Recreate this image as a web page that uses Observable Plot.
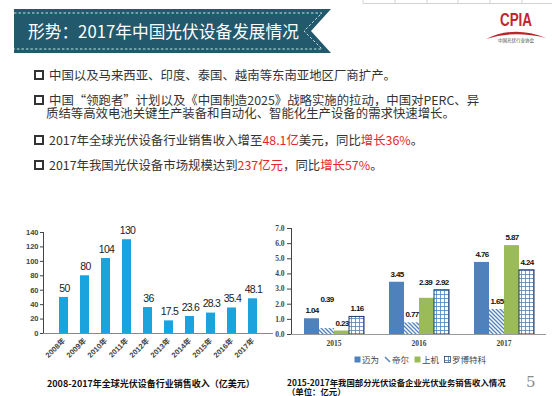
<!DOCTYPE html>
<html><head><meta charset="utf-8">
<script src="https://cdn.jsdelivr.net/npm/d3@7"></script>
<script src="https://cdn.jsdelivr.net/npm/@observablehq/plot@0.6"></script>
<style>
html,body{margin:0;padding:0}
body{width:552px;height:396px;overflow:hidden;background:#fff;position:relative;font-family:"Noto Sans CJK SC","Noto Sans",sans-serif}
.abs{position:absolute}
.bul{position:absolute;left:49px;font-size:12.4px;line-height:13px;height:13px;color:#333;white-space:nowrap}
.sq{position:absolute;left:34px;width:6px;height:6px;border:2px solid #333}
.red{color:#e3262b}
.cap{position:absolute;font-weight:bold;color:#111;white-space:nowrap}
#legend{position:absolute;left:354px;top:353px;font-size:8.5px;color:#444;display:flex;align-items:center;white-space:nowrap}
#legend span.it{display:flex;align-items:center;margin-right:5px}
#legend svg{margin-right:1px}
#left g[aria-label="text"] text{letter-spacing:-0.8px}
#right g[aria-label="text"] text{letter-spacing:-0.6px}
</style></head>
<body>
<svg width="0" height="0" style="position:absolute">
 <defs>
  <pattern id="hatch" patternUnits="userSpaceOnUse" width="4" height="4">
   <rect width="4" height="4" fill="#fff"/>
   <path d="M-1,-1 L5,5 M-1,3 L1,5 M3,-1 L5,1" stroke="#4f81bd" stroke-width="1.3"/>
  </pattern>
  <pattern id="grid" patternUnits="userSpaceOnUse" width="4" height="4">
   <rect width="4" height="4" fill="#fff"/>
   <path d="M0,0.5 H4 M0.5,0 V4" stroke="#4f81bd" stroke-width="0.8"/>
  </pattern>
 </defs>
</svg>

<!-- top-right table fragment -->
<svg class="abs" style="left:0;top:0" width="552" height="6">
 <path d="M363,0 V3.5 H552 M395,0 V3.5 M427,0 V3.5 M458,0 V3.5 M490,0 V3.5 M522,0 V3.5" stroke="#c8c8c8" stroke-width="0.8" fill="none"/>
</svg>

<!-- banner -->
<svg class="abs" style="left:0;top:0" width="345" height="60">
 <polygon points="14,9 331,9 311,31 331,53 14,53" fill="#22596c"/>
 <path d="M14,13 H322 L304,31 L322,49 H14" fill="none" stroke="#fff" stroke-width="0.8" stroke-dasharray="2.5 2"/>
 <text x="28" y="38" fill="#fff" font-size="17" textLength="271" lengthAdjust="spacingAndGlyphs" font-family="Noto Sans CJK SC, sans-serif">形势：2017年中国光伏设备发展情况</text>
</svg>

<!-- CPIA logo -->
<svg class="abs" style="left:480px;top:4px" width="72" height="40">
 <text x="36" y="22" text-anchor="middle" font-size="19" font-weight="bold" fill="#c4262d" font-family="Liberation Sans, sans-serif" textLength="32" lengthAdjust="spacingAndGlyphs">CPIA</text>
 <path d="M6,35 Q34,21 66,34 Q34,26 6,35 Z" fill="#b8262c"/>
 <text x="36" y="38" text-anchor="middle" font-size="4.5" fill="#444">中国光伏行业协会</text>
</svg>

<!-- bullets -->
<div class="sq" style="top:70px"></div>
<div class="bul" style="top:68.5px">中国以及马来西亚、印度、泰国、越南等东南亚地区厂商扩产。</div>
<div class="sq" style="top:95px"></div>
<div class="bul" style="top:93.5px">中国“领跑者”计划以及《中国制造2025》战略实施的拉动，中国对PERC、异</div>
<div class="bul" style="top:106.8px;left:46px">质结等高效电池关键生产装备和自动化、智能化生产设备的需求快速增长。</div>
<div class="sq" style="top:135px"></div>
<div class="bul" style="top:133.5px">2017年全球光伏设备行业销售收入增至<span class="red">48.1亿</span>美元，同比<span class="red">增长36%</span>。</div>
<div class="sq" style="top:160px"></div>
<div class="bul" style="top:158.5px">2017年我国光伏设备市场规模达到<span class="red">237亿元</span>，同比<span class="red">增长57%</span>。</div>

<div id="left" class="abs" style="left:0;top:220px"></div>
<div id="right" class="abs" style="left:270px;top:222px"></div>

<div id="legend"></div>

<div class="cap" style="left:47px;top:377px;font-size:9px">2008-2017年全球光伏设备行业销售收入（亿美元）</div>
<div class="cap" style="left:287px;top:378px;font-size:8.4px;line-height:9px;height:9px">2015-2017年我国部分光伏设备企业光伏业务销售收入情况</div>
<div class="cap" style="left:287px;top:387px;font-size:8.4px;line-height:9px;height:9px">（单位：亿元）</div>
<div class="abs" style="left:526px;top:373px;font-size:15px;color:#8a8a8a;font-family:'DejaVu Serif',serif">5</div>

<script>
// ---- Left chart data ----
const years1 = ["2008年","2009年","2010年","2011年","2012年","2013年","2014年","2015年","2016年","2017年"];
const revenue1 = [50, 80, 104, 130, 36, 17.5, 23.6, 28.3, 35.4, 48.1];
const yTicks1 = [0, 20, 40, 60, 80, 100, 120, 140];

// ---- Right chart data ----
const years2 = ["2015", "2016", "2017"];
const companies = ["迈为", "帝尔", "上机", "罗博特科"];
const maiwei = [1.04, 3.45, 4.76];
const dier = [0.39, 0.77, 1.65];
const shangji = [0.23, 2.39, 5.87];
const robo = [1.16, 2.92, 4.24];
const yTicks2 = [0, 1, 2, 3, 4, 5, 6, 7];

// styles (kept apart from data)
const companyFills = ["#4f81bd", "url(#hatch)", "#9bbb59", "url(#grid)"];
const raisedLabels = {"2015|帝尔": -29, "2016|上机": -16};
const labelFont = "Liberation Sans, Arial, sans-serif";

const data1 = years1.map((y, i) => ({year: y, value: revenue1[i]}));
const seriesVals = [maiwei, dier, shangji, robo];
const data2 = [];
years2.forEach((y, i) => companies.forEach((c, j) => data2.push({year: y, company: c, value: seriesVals[j][i]})));

const left = Plot.plot({
  width: 278, height: 150,
  marginLeft: 43, marginRight: 5, marginTop: 12, marginBottom: 37,
  style: {fontFamily: "Liberation Sans, Noto Sans CJK SC, sans-serif", fontSize: "7.5px", fontWeight: "bold", color: "#444", background: "transparent"},
  x: {domain: years1, padding: 0.56, label: null, tickRotate: -45, tickSize: 0, tickPadding: 6},
  y: {domain: [0, 140], ticks: yTicks1, label: null, tickSize: 3, tickPadding: 2, line: true},
  marks: [
    Plot.barY(data1, {x: "year", y: "value", fill: "#1ba3de"}),
    Plot.ruleY([0], {stroke: "#888"}),
    Plot.text(data1, {x: "year", y: "value", text: d => String(d.value), dy: -9, dx: 0.4, fontSize: 10.5, fontFamily: labelFont, fontWeight: "normal", fill: "#222"})
  ]
});
document.getElementById("left").appendChild(left);

const normal = data2.filter(d => !(d.year + "|" + d.company in raisedLabels));
const raised = data2.filter(d => d.year + "|" + d.company in raisedLabels);

const right = Plot.plot({
  width: 282, height: 130,
  marginLeft: 20, marginRight: 5.5, marginTop: 6, marginBottom: 18,
  style: {fontFamily: "Liberation Serif, Noto Sans CJK SC, serif", fontSize: "7.5px", fontWeight: "bold", color: "#444", background: "transparent"},
  fx: {domain: years2, padding: 0, label: null, axis: "bottom", tickSize: 0, tickPadding: 6},
  x: {domain: companies, axis: null, paddingInner: 0, paddingOuter: 0.72},
  y: {domain: [0, 7], ticks: yTicks2, label: null, tickSize: 4, tickPadding: 3, line: true},
  color: {domain: companies, range: companyFills},
  marks: [
    Plot.barY(data2, {fx: "year", x: "company", y: "value", fill: "company"}),
    Plot.barY(data2.filter(d => d.company === "罗博特科"), {fx: "year", x: "company", y: "value", fill: "none", stroke: "#1f3864", strokeWidth: 1}),
    Plot.ruleY([0], {stroke: "#999"}),
    Plot.text(normal, {fx: "year", x: "company", y: "value", text: d => d.value.toFixed(2), dy: -8, fontSize: 8, fontFamily: labelFont, fill: "#111"}),
    ...raised.map(d => Plot.text([d], {fx: "year", x: "company", y: "value", text: d => d.value.toFixed(2), dy: raisedLabels[d.year + "|" + d.company], dx: d.company === "上机" ? -1.5 : 0, fontSize: 8, fontFamily: labelFont, fill: "#111"}))
  ]
});
document.getElementById("right").appendChild(right);

// legend
const lg = document.getElementById("legend");
const swatch = {
  "迈为": '<rect x="0.5" y="0.5" width="6" height="6" fill="#4f81bd"/>',
  "帝尔": '<path d="M1,1 L6,6" stroke="#4f81bd" stroke-width="1.4"/>',
  "上机": '<rect x="0.5" y="0.5" width="6" height="6" fill="#9bbb59"/>',
  "罗博特科": '<rect x="0.5" y="0.5" width="6" height="6" fill="url(#grid)" stroke="#1f3864" stroke-width="0.7"/>'
};
companies.forEach(c => {
  const s = document.createElement("span");
  s.className = "it";
  s.innerHTML = `<svg width="7" height="7">${swatch[c]}</svg>${c}`;
  lg.appendChild(s);
});
</script>
</body></html>
